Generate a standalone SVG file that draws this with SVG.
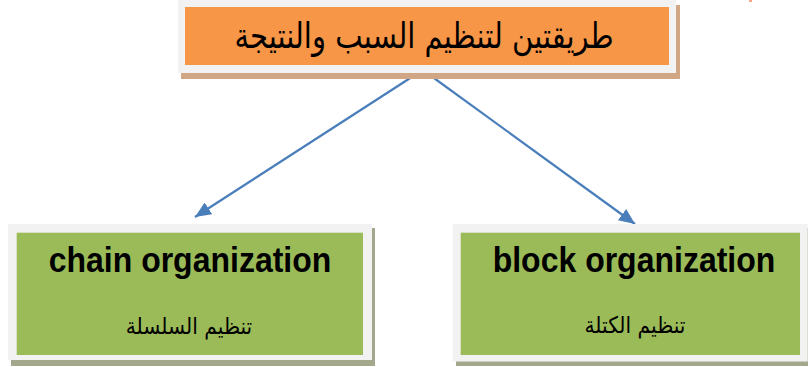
<svg xmlns="http://www.w3.org/2000/svg" width="808" height="367" viewBox="0 0 808 367">
  <style>
    .frame { fill: #f2f2f2; }
    .shadowTop { fill: #d0a684; }
    .shadowGreen { fill: #a3a78c; }
    .orange { fill: #f79646; }
    .green { fill: #9bbb59; }
    .en { font-family: "Liberation Sans", Arial, sans-serif; font-weight: bold; font-size: 32px; fill: #000; text-anchor: middle; }
    .ar { font-family: "DejaVu Sans", "Noto Sans", sans-serif; fill: #000; text-anchor: middle; }
    .conn { stroke: #4a7ebb; stroke-width: 2.2; fill: none; marker-end: url(#arrow); }
  </style>
  <defs>
    <marker id="arrow" viewBox="0 0 16 14" refX="16" refY="7" markerWidth="16" markerHeight="14" markerUnits="userSpaceOnUse" orient="auto">
      <path d="M0,0 L16,7 L0,14 z" fill="#4a7ebb"/>
    </marker>
  </defs>
  <rect x="0" y="0" width="808" height="367" fill="#ffffff"/>
  <rect x="749" y="0" width="3" height="2" fill="#f6a58a"/>

  <g id="connectors">
    <line class="conn" x1="418" y1="73" x2="195" y2="217"/>
    <line class="conn" x1="427" y1="73" x2="635" y2="224"/>
  </g>

  <g id="top">
    <rect class="shadowTop" x="181" y="5" width="499" height="74"/>
    <rect class="frame" x="178" y="-2" width="498" height="75"/>
    <rect class="orange" x="185" y="7" width="484" height="58"/>
    <text class="ar" transform="translate(424,48) scale(0.83,1)" font-size="35" direction="rtl">طريقتين لتنظيم السبب والنتيجة</text>
  </g>

  <g id="chain">
    <rect class="shadowGreen" x="11" y="228" width="364" height="138"/>
    <rect class="frame" x="8" y="224" width="364" height="136"/>
    <rect class="green" x="16.7" y="232.7" width="346.3" height="122.3"/>
    <text class="en" transform="translate(190,272) scale(1,1.12)">chain organization</text>
    <text class="ar" transform="translate(189,334) scale(0.88,1)" font-size="23" direction="rtl">تنظيم السلسلة</text>
  </g>

  <g id="block">
    <rect class="shadowGreen" x="456" y="228" width="355" height="138"/>
    <rect class="frame" x="452.7" y="224" width="355" height="137.5"/>
    <rect class="green" x="460.7" y="232.7" width="339.3" height="122.3"/>
    <text class="en" transform="translate(634,272) scale(1,1.12)">block organization</text>
    <text class="ar" transform="translate(635,333) scale(0.88,1)" font-size="23" direction="rtl">تنظيم الكتلة</text>
  </g>
</svg>
